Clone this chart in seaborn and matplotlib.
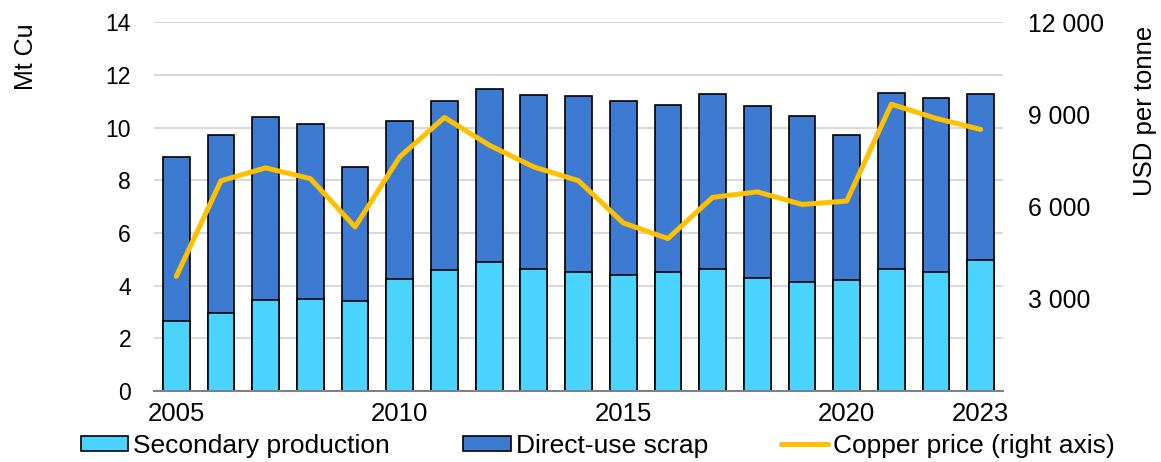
import numpy as np
import pandas as pd
import matplotlib
matplotlib.use("Agg")
import matplotlib.pyplot as plt
import seaborn as sns
from matplotlib.patches import Patch
from matplotlib.lines import Line2D

# data
years = list(range(2005, 2024))
secondary = [2.67, 2.96, 3.44, 3.50, 3.41, 4.25, 4.58, 4.89, 4.64, 4.51,
             4.41, 4.50, 4.63, 4.29, 4.15, 4.20, 4.64, 4.51, 4.99]
direct_use = [6.20, 6.77, 6.95, 6.64, 5.11, 5.98, 6.44, 6.59, 6.60, 6.69,
              6.58, 6.35, 6.65, 6.53, 6.28, 5.52, 6.69, 6.60, 6.27]
copper_price = [3730, 6840, 7260, 6910, 5340, 7620, 8900, 8000, 7290, 6840,
                5470, 4960, 6300, 6480, 6070, 6180, 9330, 8870, 8510]

xtick_labels = ["2005", "2010", "2015", "2020", "2023"]
left_ticks = [0, 2, 4, 6, 8, 10, 12, 14]
right_ticks = [3000, 6000, 9000, 12000]

c_secondary = "#4AD4FF"
c_direct = "#3D7BD3"
c_price = "#FFC000"

df = pd.DataFrame({"year": [str(y) for y in years],
                   "secondary": secondary,
                   "direct": direct_use,
                   "price": copper_price})
df["total"] = df["secondary"] + df["direct"]

sns.set_style("white")
plt.rcParams["font.family"] = ["Liberation Sans", "DejaVu Sans"]
plt.rcParams["text.color"] = "black"
plt.rcParams["axes.labelcolor"] = "black"
plt.rcParams["xtick.color"] = "black"
plt.rcParams["ytick.color"] = "black"

fig, ax = plt.subplots(figsize=(11.61, 4.62), dpi=100)
fig.subplots_adjust(left=0.1326, right=0.864, top=0.952, bottom=0.1537)

# stacked bars: total first, then secondary on top of it
sns.barplot(data=df, x="year", y="total", color=c_direct, saturation=1,
            width=0.6, edgecolor="black", linewidth=1.2, ax=ax)
sns.barplot(data=df, x="year", y="secondary", color=c_secondary, saturation=1,
            width=0.6, edgecolor="black", linewidth=1.2, ax=ax)

ax.set_xlim(-0.5, len(years) - 0.5)
ax.set_ylim(0, 14)
ax.set_yticks(left_ticks)
ax.set_xticks([years.index(int(t)) for t in xtick_labels], xtick_labels)
ax.set_axisbelow(True)
ax.yaxis.grid(True, color="#d9d9d9", linewidth=1.5)
ax.tick_params(axis="both", length=0)
ax.tick_params(axis="y", pad=16.5, labelsize=16.5)
ax.tick_params(axis="x", pad=8, labelsize=18.5)
for s in ["top", "left", "right"]:
    ax.spines[s].set_visible(False)
ax.spines["bottom"].set_color("#808080")
ax.spines["bottom"].set_linewidth(1.5)
ax.set_xlabel("")
ax.set_ylabel("Mt Cu", fontsize=18)
ax.yaxis.set_label_coords(-0.1365, 0.906)

ax2 = ax.twinx()
sns.lineplot(x=np.arange(len(years)), y=df["price"], color=c_price,
             linewidth=3.6, ax=ax2)
ax2.set_ylim(0, 12000)
ax2.set_yticks(right_ticks)
ax2.set_yticklabels([f"{v:,}".replace(",", " ") for v in right_ticks])
ax2.tick_params(axis="y", length=0, pad=18, labelsize=17.8)
for s in ["top", "left", "right", "bottom"]:
    ax2.spines[s].set_visible(False)
ax2.set_ylabel("USD per tonne", fontsize=18.5)
ax2.yaxis.set_label_coords(1.153, 0.759)

handles = [Patch(facecolor=c_secondary, edgecolor="black", linewidth=1.2),
           Patch(facecolor=c_direct, edgecolor="black", linewidth=1.2),
           Line2D([0], [0], color=c_price, linewidth=3.6)]
labels = ["Secondary production", "Direct-use scrap", "Copper price (right axis)"]
fig.legend(handles, labels, loc="center", bbox_to_anchor=(0.515, 0.035), ncol=3,
           frameon=False, fontsize=19, handlelength=1.8, handleheight=0.55,
           handletextpad=0.19, columnspacing=2.77, borderaxespad=0, borderpad=0)

fig.savefig("out.png", dpi=100)
